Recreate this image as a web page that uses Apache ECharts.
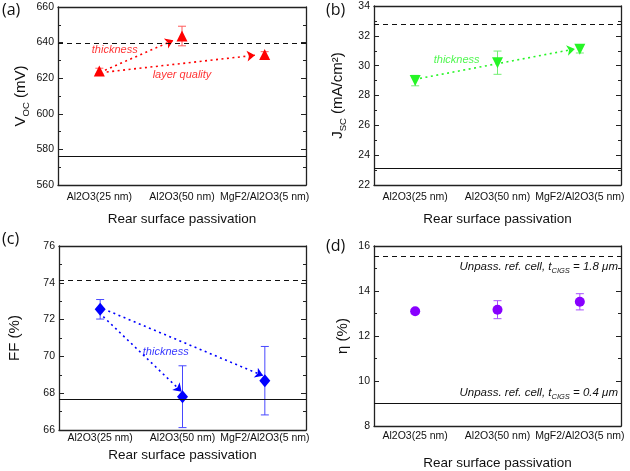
<!DOCTYPE html>
<html><head><meta charset="utf-8">
<script src="https://cdn.jsdelivr.net/npm/echarts@6/dist/echarts.min.js"></script>
<style>html,body{margin:0;padding:0;background:#fff}#c{width:630px;height:471px}</style>
</head><body><div id="c"></div>
<script>
// ---------- data ----------
const categories = ['Al2O3(25 nm)', 'Al2O3(50 nm)', 'MgF2/Al2O3(5 nm)'];

const vocMean = [624.0, 643.7, 633.3];
const vocErr  = [1.6, 5.5, 1.6];
const vocRefLines = [639.6, 576.2];          // [dashed, solid]
const vocArrows = [[0.069, 624.5, 0.895, 641.3], [0.089, 623.5, 1.883, 632.9]];
const vocNotes  = [[0.186, 635.7, 'thickness'], [1.0, 621.7, 'layer quality']];

const jscMean = [29.0, 30.2, 31.1];
const jscErr  = [0.35, 0.78, 0.25];
const jscRefLines = [32.8, 23.1];
const jscArrows = [[0.059, 29.15, 1.94, 31.12]];
const jscNotes  = [[0.504, 30.38, 'thickness']];

const ffMean = [72.56, 67.81, 68.68];
const ffErr  = [0.53, 1.68, 1.86];
const ffRefLines = [74.12, 67.65];
const ffArrows = [[0.099, 72.47, 1.98, 68.95], [0.038, 72.16, 0.99, 68.08]];
const ffNotes  = [[0.796, 70.26, 'thickness']];

const etaMean = [13.1, 13.17, 13.52];
const etaErr  = [0.05, 0.4, 0.36];
const etaRefLines = [15.56, 9.0];
const etaRefLabels = ['1.8 μm', '0.4 μm'];

const yTicks = {
  a: {min: 560, max: 660, interval: 20},
  b: {min: 22, max: 34, interval: 2},
  c: {min: 66, max: 76, interval: 2},
  d: {min: 8, max: 16, interval: 2}
};

// ---------- build ----------
const FONT = 'Liberation Sans, Arial, sans-serif';
const panels = [
  {tag: '(a)', grid: {left: 58, top: 7, width: 248, height: 178}, ax: yTicks.a,
   name: '{n|V}{s|OC}{n| (mV)}', mean: vocMean, err: vocErr, ref: vocRefLines,
   arrows: vocArrows, notes: vocNotes, symbol: 'triangle', rot: 0, size: 11,
   color: '#ff0000', ecolor: '#ff5a5a', title: {left: 2, top: 2},
   yGap: 27, xMargin: 6.5, xGap: 27},
  {tag: '(b)', grid: {left: 374, top: 6, width: 247, height: 179}, ax: yTicks.b,
   name: '{n|J}{s|SC}{n| (mA/cm²)}', mean: jscMean, err: jscErr, ref: jscRefLines,
   arrows: jscArrows, notes: jscNotes, symbol: 'triangle', rot: 180, size: 11,
   color: '#26f526', ecolor: '#74ee74', title: {left: 326, top: 2},
   yGap: 26, xMargin: 6.5, xGap: 27},
  {tag: '(c)', grid: {left: 59, top: 246, width: 247, height: 184}, ax: yTicks.c,
   name: '{n|FF (%)}', mean: ffMean, err: ffErr, ref: ffRefLines,
   arrows: ffArrows, notes: ffNotes, symbol: 'diamond', rot: 0, size: [11, 13],
   color: '#0000ff', ecolor: '#4848ff', title: {left: 2, top: 231},
   yGap: 34, xMargin: 3, xGap: 18},
  {tag: '(d)', grid: {left: 374, top: 246, width: 247, height: 182}, ax: yTicks.d,
   name: '{n|η (%)}', mean: etaMean, err: etaErr, ref: etaRefLines,
   arrows: [], notes: [], symbol: 'circle', rot: 0, size: 10,
   color: '#8800ff', ecolor: '#a850ff', title: {left: 326, top: 238}, refLabels: etaRefLabels,
   yGap: 21, xMargin: 5, xGap: 30}
];

const lineW = 1.3;
const grid = [], xAxis = [], yAxis = [], series = [], title = [];

panels.forEach((p, i) => {
  grid.push(p.grid);
  title.push({text: p.tag, left: p.title.left, top: p.title.top, padding: 0,
    textStyle: {fontFamily: 'Open Sans, DejaVu Sans, sans-serif', fontSize: 16, fontWeight: 'normal', color: '#111'}});
  const axisLine = {show: true, onZero: false, lineStyle: {color: '#222', width: lineW}};
  xAxis.push({
    type: 'category', gridIndex: i, data: categories, position: 'bottom', boundaryGap: true,
    axisLine, axisTick: {inside: true, alignWithLabel: true, length: 5, lineStyle: {color: '#222', width: 1}},
    axisLabel: {interval: 0, fontFamily: FONT, fontSize: 10.5, color: '#111', margin: p.xMargin},
    splitLine: {show: false},
    name: 'Rear surface passivation', nameLocation: 'middle', nameGap: p.xGap,
    nameTextStyle: {fontFamily: FONT, fontSize: 13.5, color: '#111'}
  });
  xAxis.push({
    type: 'category', gridIndex: i, data: categories, position: 'top', boundaryGap: true,
    axisLine, axisTick: {inside: true, alignWithLabel: true, length: 5, lineStyle: {color: '#222', width: 1}},
    axisLabel: {show: false}, splitLine: {show: false}
  });
  xAxis.push({type: 'value', gridIndex: i, min: -0.5, max: 2.5, show: false});
  const yCommon = {
    type: 'value', gridIndex: i, min: p.ax.min, max: p.ax.max, interval: p.ax.interval,
    axisLine, splitLine: {show: false},
    axisTick: {inside: true, length: 5, lineStyle: {color: '#222', width: 1}},
    minorTick: {show: true, splitNumber: 2, length: 3, lineStyle: {color: '#222', width: 1}}
  };
  yAxis.push(Object.assign({}, yCommon, {
    position: 'left',
    axisLabel: {fontFamily: FONT, fontSize: 10.5, color: '#111', margin: 4},
    name: p.name, nameLocation: 'middle', nameGap: p.yGap, nameRotate: 90,
    nameTextStyle: {fontFamily: FONT, color: '#111', rich: {
      n: {fontFamily: FONT, fontSize: 15, color: '#111', lineHeight: 20, verticalAlign: 'middle'},
      s: {fontFamily: FONT, fontSize: 9.5, color: '#111', verticalAlign: 'bottom'}
    }}
  }));
  yAxis.push(Object.assign({}, yCommon, {position: 'right', axisLabel: {show: false}}));

  const xi = 3 * i, yi = 2 * i;
  // reference lines
  const mlData = p.ref.map((v, k) => {
    const d = {yAxis: v, lineStyle: {type: k === 0 ? [5, 4] : 'solid', color: '#111', width: 1.2}};
    if (p.refLabels) {
      d.label = {show: true, position: k === 0 ? 'insideEndBottom' : 'insideEndTop', distance: [3, 3],
        formatter: '{i|Unpass. ref. cell, t}{s|CIGS}{i| = ' + p.refLabels[k] + '}',
        rich: {
          i: {fontFamily: FONT, fontStyle: 'italic', fontSize: 11.5, color: '#111', lineHeight: 16, verticalAlign: 'middle'},
          s: {fontFamily: FONT, fontStyle: 'italic', fontSize: 7.5, color: '#111', verticalAlign: 'bottom'}
        }};
    } else d.label = {show: false};
    return d;
  });
  // error bars
  series.push({
    type: 'custom', xAxisIndex: xi, yAxisIndex: yi, z: 2,
    data: p.mean.map((m, k) => [k, m - p.err[k], m + p.err[k]]),
    encode: {x: 0, y: [1, 2]},
    renderItem: (params, api) => {
      const x = api.value(0);
      const a = api.coord([x, api.value(1)]), b = api.coord([x, api.value(2)]);
      const w = 4, st = {stroke: p.ecolor, lineWidth: 1};
      return {type: 'group', children: [
        {type: 'line', shape: {x1: a[0], y1: a[1], x2: b[0], y2: b[1]}, style: st},
        {type: 'line', shape: {x1: a[0] - w, y1: a[1], x2: a[0] + w, y2: a[1]}, style: st},
        {type: 'line', shape: {x1: b[0] - w, y1: b[1], x2: b[0] + w, y2: b[1]}, style: st}
      ]};
    },
    silent: true
  });
  // markers
  series.push({
    type: 'scatter', xAxisIndex: xi, yAxisIndex: yi, z: 4,
    data: p.mean, symbol: p.symbol, symbolRotate: p.rot, symbolSize: p.size,
    itemStyle: {color: p.color, opacity: 1},
    markLine: {silent: true, symbol: 'none', data: mlData, animation: false}
  });
  // arrows
  if (p.arrows.length) series.push({
    type: 'lines', coordinateSystem: 'cartesian2d', xAxisIndex: xi + 2, yAxisIndex: yi, z: 3,
    data: p.arrows.map(a => ({coords: [[a[0], a[1]], [a[2], a[3]]]})),
    symbol: ['none', 'arrow'], symbolSize: [0, 8],
    lineStyle: {color: p.color, width: 1.6, type: [2, 3.5], opacity: 1}
  });
  // notes
  if (p.notes.length) series.push({
    type: 'scatter', xAxisIndex: xi + 2, yAxisIndex: yi, z: 5, symbolSize: 0,
    data: p.notes.map(n => ({value: [n[0], n[1]], name: n[2]})),
    label: {show: true, position: 'inside', formatter: '{b}', fontFamily: FONT, fontStyle: 'italic',
      fontSize: 11, color: p.color},
    silent: true
  });
});

const chart = echarts.init(document.getElementById('c'), null, {renderer: 'canvas'});
chart.setOption({animation: false, backgroundColor: '#fff', title, grid, xAxis, yAxis, series});
</script></body></html>
